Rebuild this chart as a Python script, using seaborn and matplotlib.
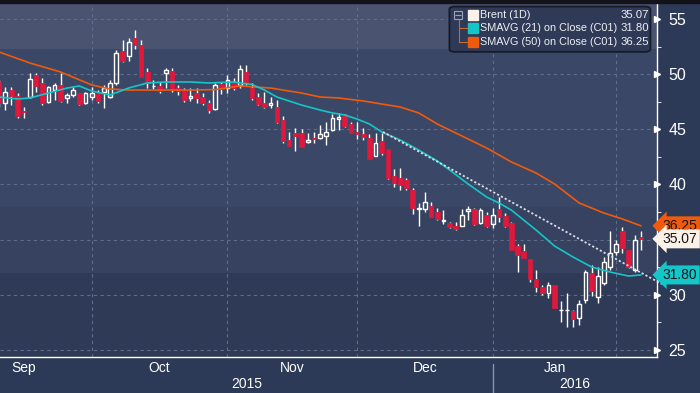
import numpy as np
import pandas as pd
import seaborn as sns
import matplotlib.pyplot as plt
from matplotlib.patches import FancyBboxPatch, Rectangle

# Brent (1D) daily candles, 10 Sep 2015 - 5 Feb 2016
opens = [49.3, 47.4, 48.6, 48.0, 46.65, 47.9, 49.9, 49.2, 47.5, 48.6,
         49.0, 47.8, 48.1, 48.3, 47.4, 47.9, 48.3, 48.4, 47.9, 49.2,
         52.1, 51.6, 53.3, 52.6, 50.2, 48.9, 48.9, 50.1, 50.3, 48.7,
         48.6, 47.8, 48.3, 47.9, 47.4, 46.85, 49.1, 48.75, 49.3, 49.0,
         50.2, 48.75, 47.9, 47.4, 47.2, 47.0, 45.85, 44.0, 44.65, 44.65,
         43.85, 44.2, 44.2, 44.4, 44.95, 45.95, 46.2, 45.5, 44.75, 44.55,
         44.2, 42.6, 43.95, 43.2, 40.75, 40.6, 40.4, 39.5, 37.8, 37.8,
         38.05, 37.5, 36.7, 36.5, 36.25, 36.25, 37.6, 37.75, 36.5, 37.25,
         36.4, 37.75, 37.15, 36.5, 34.4, 33.95, 33.25, 31.45, 30.7, 30.15,
         30.9, 28.6, 28.6, 28.5, 27.9, 29.5, 31.95, 29.8, 31.05, 32.5,
         33.85, 35.8, 34.05, 32.25, 35.25]
highs = [49.5, 48.8, 48.8, 48.3, 47.0, 50.1, 50.1, 49.65, 48.9, 49.2,
         50.1, 48.3, 48.8, 48.3, 48.4, 48.8, 48.55, 49.0, 49.5, 52.2,
         53.1, 53.3, 54.0, 53.1, 50.6, 49.5, 49.3, 50.6, 50.55, 49.0,
         48.75, 48.75, 48.75, 48.3, 47.65, 49.2, 49.3, 49.9, 49.65, 50.8,
         50.8, 49.2, 48.3, 48.4, 47.9, 47.65, 46.2, 44.75, 45.1, 45.0,
         44.65, 44.75, 45.4, 45.65, 46.4, 46.5, 46.4, 45.65, 45.65, 45.1,
         44.55, 44.65, 44.65, 43.2, 41.4, 41.5, 40.6, 39.7, 38.3, 39.3,
         38.4, 37.85, 37.7, 36.6, 36.6, 37.75, 38.05, 37.85, 37.85, 37.5,
         37.85, 38.85, 37.4, 36.6, 34.6, 34.6, 33.25, 32.25, 30.9, 31.15,
         30.9, 29.4, 30.15, 28.6, 29.5, 32.25, 32.7, 32.5, 33.4, 35.8,
         34.95, 36.15, 34.05, 35.4, 35.8]
lows = [47.0, 46.75, 47.2, 46.0, 46.0, 47.8, 48.4, 47.2, 47.4, 47.65,
        47.5, 47.4, 47.9, 47.2, 47.3, 47.65, 47.4, 46.9, 47.8, 49.0,
        51.1, 51.2, 52.3, 49.7, 48.7, 48.65, 48.3, 48.7, 48.4, 48.1,
        47.5, 47.6, 47.4, 47.2, 46.5, 46.75, 48.2, 48.3, 48.55, 48.75,
        49.0, 47.65, 47.2, 46.9, 46.9, 45.55, 43.75, 43.5, 43.0, 43.4,
        43.75, 43.75, 44.1, 43.6, 44.85, 44.95, 45.2, 44.65, 44.1, 44.0,
        42.3, 42.6, 42.65, 40.5, 39.75, 39.5, 39.5, 37.3, 36.25, 37.5,
        37.05, 36.75, 36.4, 36.05, 35.85, 36.25, 36.8, 36.3, 36.4, 36.15,
        36.05, 36.6, 36.15, 34.05, 32.05, 33.3, 31.15, 30.25, 29.95, 29.75,
        28.8, 27.5, 27.1, 27.1, 27.25, 29.3, 29.85, 29.25, 30.9, 32.25,
        33.6, 33.8, 32.4, 32.05, 34.05]
closes = [47.4, 48.4, 48.0, 46.2, 46.55, 49.6, 48.9, 47.4, 48.8, 49.0,
          47.6, 48.1, 48.6, 47.3, 48.3, 48.3, 47.6, 48.7, 49.2, 51.9,
          51.2, 52.9, 52.6, 49.7, 49.2, 48.95, 48.5, 50.4, 48.6, 48.5,
          47.7, 48.0, 47.8, 47.4, 46.75, 49.0, 48.65, 49.5, 48.75, 50.5,
          49.3, 47.85, 47.3, 47.0, 47.4, 45.65, 43.95, 43.5, 44.4, 43.4,
          44.0, 44.1, 44.6, 44.75, 46.0, 46.1, 45.3, 44.65, 44.55, 44.3,
          42.3, 43.75, 42.85, 40.6, 40.15, 39.95, 39.7, 37.85, 37.85, 38.4,
          37.05, 36.85, 36.8, 36.15, 35.95, 37.2, 37.75, 36.4, 37.7, 36.25,
          37.25, 37.05, 36.25, 34.05, 33.6, 33.3, 31.45, 30.7, 30.15, 30.9,
          28.8, 28.65, 28.65, 27.8, 29.15, 32.05, 30.3, 31.7, 32.95, 33.8,
          34.6, 34.2, 32.5, 34.95, 35.07]

# moving averages as drawn (candle index, value)
sma21_idx = [0, 3, 5, 8, 11, 13, 15, 18, 21, 24, 27, 31, 34, 38, 41, 43, 45, 49, 52,
             54, 56, 58, 60, 62, 65, 68, 71, 73, 76, 79, 81, 83, 87, 90, 93, 96, 99, 102, 104]
sma21_val = [47.93, 47.75, 47.84, 48.29, 48.74, 48.93, 48.47, 48.11, 48.74, 49.2, 49.29,
             49.29, 49.2, 49.29, 49.06, 48.56, 47.93, 47.2, 46.75, 46.48, 46.3, 45.93,
             45.48, 44.76, 44.03, 43.12, 42.13, 41.31, 40.04, 38.86, 38.32, 37.68, 35.87,
             34.42, 33.42, 32.52, 32.06, 31.7, 31.8]
sma50_idx = [0, 5, 10, 15, 18, 21, 25, 31, 35, 39, 44, 49, 52, 55, 59, 62, 65, 68, 71,
             75, 79, 83, 87, 90, 94, 98, 101, 104]
sma50_val = [52.01, 51.01, 50.19, 49.02, 48.65, 48.56, 48.56, 48.56, 48.6, 48.93, 48.74,
             48.29, 47.93, 47.84, 47.57, 47.29, 47.02, 46.48, 45.48, 44.39, 43.3, 42.04,
             41.04, 40.04, 38.32, 37.41, 36.87, 36.25]

trend_idx = [62.2, 107.4]
trend_val = [44.76, 30.97]

holidays = ['2015-12-25', '2016-01-01']
legend_names = ['Brent (1D)', 'SMAVG (21) on Close (C01)', 'SMAVG (50) on Close (C01)']
legend_values = ['35.07', '31.80', '36.25']

RED = '#e0183c'
CYAN = '#14c6c8'
ORANGE = '#f05a0c'
CREAM = '#fbf1e6'
NAVY = '#2c3a57'

sns.set_style('dark')
plt.rcParams['font.family'] = ['Liberation Sans', 'DejaVu Sans']

fig = plt.figure(figsize=(7, 3.93), dpi=100, facecolor=NAVY)
ax = fig.add_axes([0, 0.0916, 0.9386, 0.9008])
ax.set_facecolor(NAVY)
fig.patches.append(Rectangle((0, 0.993), 1, 0.007, transform=fig.transFigure,
                             color='#111318', zorder=10))

# background bands
ax.axhspan(52.28, 60, color='#4a5471', lw=0, zorder=0)
ax.axhspan(37.96, 52.28, color='#3b4766', lw=0, zorder=0)
ax.axhspan(31.97, 37.96, color='#36425f', lw=0, zorder=0)
ax.axhspan(0, 31.97, color='#2f3a57', lw=0, zorder=0)

# dates -> month boundaries
days = pd.bdate_range('2015-09-01', '2016-02-29')
days = days[~days.isin(pd.to_datetime(holidays))]
start = days.get_loc(pd.Timestamp('2015-09-10'))
months = days.to_period('M')
firsts = [i - start for i in range(len(days)) if i == 0 or months[i] != months[i - 1]]
bounds = firsts[1:]            # Oct, Nov, Dec, Jan, Feb starts
month_pos = [(firsts[k] + firsts[k + 1]) / 2 for k in range(5)]
month_lab = ['Sep', 'Oct', 'Nov', 'Dec', 'Jan']

# grid
grid_kw = dict(color='#5d6e8c', lw=0.8, ls=(0, (3, 3)), zorder=1)
for b in bounds:
    ax.axvline(b, **grid_kw)
for v in range(25, 60, 5):
    ax.axhline(v, **grid_kw)

# candles
x = np.arange(len(closes))
o, h, l, c = map(np.array, (opens, highs, lows, closes))
top = np.maximum(o, c)
bot = np.minimum(o, c)
up = c >= o
ax.vlines(x, top, h, color='white', lw=1, zorder=3)
ax.vlines(x, l, bot, color='white', lw=1, zorder=3)
ax.bar(x[~up], (top - bot)[~up], bottom=bot[~up], width=0.75, color=RED,
       edgecolor=RED, lw=0.5, zorder=4)
ax.bar(x[up], np.maximum(top - bot, 0.04)[up], bottom=bot[up], width=0.6,
       facecolor='none', edgecolor='white', lw=1, zorder=4)

# moving averages and trendline
sns.lineplot(x=sma50_idx, y=sma50_val, ax=ax, color=ORANGE, lw=1.2, zorder=5)
sns.lineplot(x=sma21_idx, y=sma21_val, ax=ax, color=CYAN, lw=1.2, zorder=5)
ax.plot(trend_idx, trend_val, color='#d9dde6', lw=1.3, ls=(0, (1.2, 1.2)),
        zorder=6, clip_on=False)

ax.set_xlim(0.15, 106.6)
ax.set_ylim(24.36, 56.45)
ax.set_xlabel('')
ax.set_ylabel('')

# axes styling
for s in ['left', 'top']:
    ax.spines[s].set_visible(False)
for s in ['right', 'bottom']:
    ax.spines[s].set_color('white')
    ax.spines[s].set_linewidth(1)

ax.set_xticks(bounds)
ax.set_xticklabels([])
ax.set_xticks(month_pos, month_lab, minor=True)
ax.tick_params(axis='x', which='major', length=4, color='white', direction='out')
ax.tick_params(axis='x', which='minor', length=0, pad=3, labelsize=10, labelcolor='white')

yt = [25, 30, 40, 45, 50, 55]
ax.yaxis.tick_right()
ax.set_yticks(yt)
ax.set_yticklabels([str(v) for v in yt])
ax.set_yticks(np.arange(27.5, 56, 5), minor=True)
ax.tick_params(axis='y', which='major', length=0, pad=8, labelsize=11.5, labelcolor='white')
ax.tick_params(axis='y', which='minor', length=3, color='white', direction='out')
ax.plot([1.0] * len(yt), yt, '>', ms=4, color='white', transform=ax.get_yaxis_transform(),
        clip_on=False, zorder=7)

# years
tx = ax.get_xaxis_transform()
ax.text((0.15 + bounds[3]) / 2, -0.075, '2015', transform=tx, ha='center', va='center',
        color='white', fontsize=10)
ax.text((bounds[3] + 106.6) / 2, -0.075, '2016', transform=tx, ha='center', va='center',
        color='white', fontsize=10)
ax.plot([bounds[3], bounds[3]], [-0.02, -0.11], transform=tx, color='#8a93a8', lw=1,
        clip_on=False)

# last value tags
for val, fc in [(36.25, ORANGE), (35.07, CREAM), (31.80, CYAN)]:
    ax.annotate(f'{val:.2f}', xy=(1.0, val), xycoords=('axes fraction', 'data'),
                xytext=(4, 0), textcoords='offset points', ha='left', va='center',
                fontsize=10, color='#15161a', annotation_clip=False, zorder=9,
                bbox=dict(boxstyle='larrow,pad=0.18', fc=fc, ec='none'))

# legend box
ta = ax.transAxes
ax.add_patch(FancyBboxPatch((0.684, 0.862), 0.306, 0.128, transform=ta,
                            boxstyle='round,pad=0,rounding_size=0.008',
                            fc='#2f3a57', ec='#161b27', lw=1.3, zorder=8))
rows = [0.966, 0.929, 0.890]
sq_colors = [CREAM, CYAN, ORANGE]
ax.plot([0.697], [rows[0]], 's', ms=6, mfc='none', mec='#9aa2b5', mew=0.8,
        transform=ta, zorder=9)
ax.plot([0.697], [rows[0]], '_', ms=4, color='#9aa2b5', mew=0.8, transform=ta, zorder=9)
ax.plot([0.698, 0.698, 0.712], [rows[0] - 0.015, rows[2], rows[2]], color='#c96a30',
        lw=0.8, transform=ta, zorder=9)
ax.plot([0.698, 0.712], [rows[1], rows[1]], color='#c96a30', lw=0.8, transform=ta, zorder=9)
for r, name, val, col in zip(rows, legend_names, legend_values, sq_colors):
    ax.plot([0.720], [r], 's', ms=7, color=col, transform=ta, zorder=9)
    ax.text(0.731, r, name, transform=ta, ha='left', va='center', fontsize=7.8,
            color='#eef0f5', zorder=9)
    ax.text(0.988, r, val, transform=ta, ha='right', va='center', fontsize=8.2,
            color='#eef0f5', zorder=9)

fig.savefig('out.png', dpi=100, facecolor=NAVY)
